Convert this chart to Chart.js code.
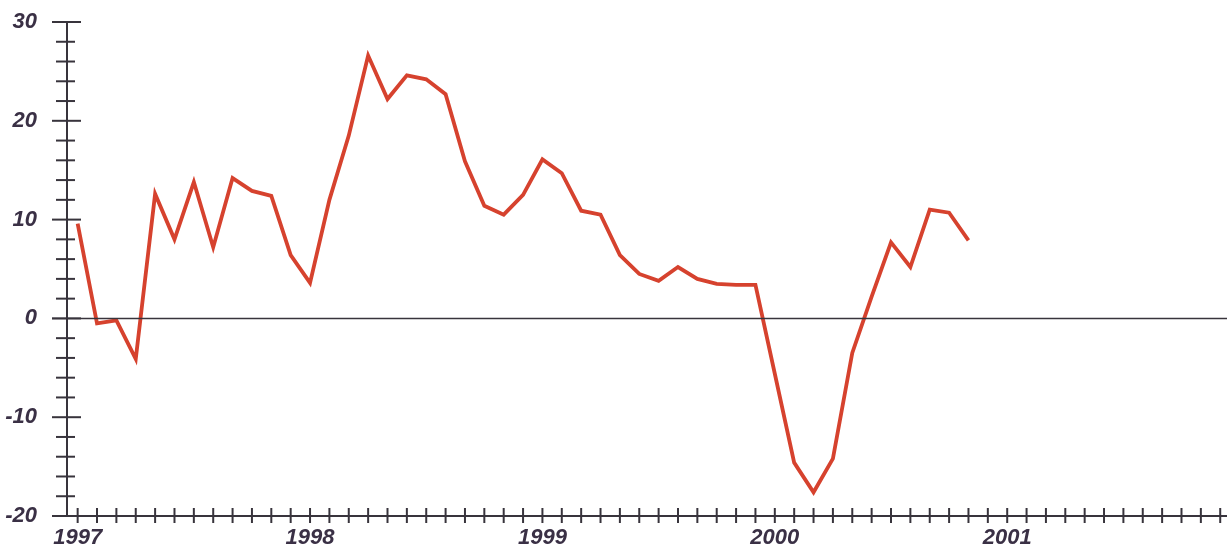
<!DOCTYPE html>
<html>
<head>
<meta charset="utf-8">
<script src="https://cdn.jsdelivr.net/npm/chart.js@4"></script>
<style>
  html, body { margin: 0; padding: 0; background: #fff; }
  #wrap { width: 1227px; height: 545px; }
</style>
</head>
<body>
<div id="wrap"><canvas id="grafico" width="1227" height="545"></canvas></div>
<script>
// Dados mensais, jan/1997 a nov/2000
const anos = ['1997', '1998', '1999', '2000', '2001'];
const valores = [
    9.6, -0.5, -0.2, -4.1, 12.6, 8.0, 13.8, 7.2, 14.2, 12.9, 12.4, 6.4,
    3.6, 12.0, 18.5, 26.6, 22.2, 24.6, 24.2, 22.7, 15.9, 11.4, 10.5, 12.5,
    16.1, 14.7, 10.9, 10.5, 6.4, 4.5, 3.8, 5.2, 4.0, 3.5, 3.4, 3.4,
    -5.6, -14.6, -17.6, -14.2, -3.5, 2.2, 7.7, 5.2, 11.0, 10.7, 7.9
];
const ticksY = [-20, -10, 0, 10, 20, 30];
const totalMeses = 60;

const corEixo = '#38343c';
const corTexto = '#3a3045';
const fonteEixo = { family: 'Liberation Sans, Arial, sans-serif', size: 22, weight: 'bold', style: 'italic' };

// Desenha eixos com marcas cruzando a linha, como no original
const eixosPlugin = {
    id: 'eixos',
    afterDatasetsDraw(chart) {
        const ctx = chart.ctx;
        const x = chart.scales.x;
        const y = chart.scales.y;
        const area = chart.chartArea;
        ctx.save();
        ctx.strokeStyle = corEixo;
        ctx.lineWidth = 1.5;

        // linha do zero
        const y0 = y.getPixelForValue(0);
        ctx.beginPath();
        ctx.moveTo(area.left - 15, y0);
        ctx.lineTo(area.right, y0);
        ctx.stroke();

        // eixo Y
        ctx.lineWidth = 2;
        ctx.beginPath();
        ctx.moveTo(area.left, y.getPixelForValue(30));
        ctx.lineTo(area.left, area.bottom);
        ctx.stroke();
        for (let v = -20; v <= 30; v += 2) {
            const py = y.getPixelForValue(v);
            const maior = v % 10 === 0;
            ctx.beginPath();
            ctx.moveTo(area.left - (maior ? 15 : 11), py);
            ctx.lineTo(area.left + (maior ? 14 : 8), py);
            ctx.stroke();
        }

        // eixo X
        ctx.beginPath();
        ctx.moveTo(area.left - 12, area.bottom);
        ctx.lineTo(area.right, area.bottom);
        ctx.stroke();
        for (let m = 0; m < totalMeses; m++) {
            const px = x.getPixelForValue(m);
            ctx.beginPath();
            ctx.moveTo(px, area.bottom - 8);
            ctx.lineTo(px, area.bottom + 7);
            ctx.stroke();
        }
        ctx.restore();
    }
};

function criarGrafico() {
    const ctx = document.getElementById('grafico').getContext('2d');
    new Chart(ctx, {
        type: 'line',
        data: {
            datasets: [
                {
                    label: 'Variação',
                    data: valores.map((v, i) => ({ x: i, y: v })),
                    borderColor: 'rgb(214, 66, 46)',
                    borderWidth: 3.8,
                    pointRadius: 0,
                    tension: 0,
                    fill: false
                }
            ]
        },
        options: {
            responsive: false,
            animation: false,
            layout: {
                padding: { top: 22, right: 0, left: 0, bottom: 0 }
            },
            plugins: {
                legend: { display: false },
                tooltip: { enabled: false }
            },
            scales: {
                x: {
                    type: 'linear',
                    min: -0.55,
                    max: 59.35,
                    grid: { display: false, drawTicks: false },
                    border: { display: false },
                    afterBuildTicks: s => { s.ticks = anos.map((a, i) => ({ value: i * 12 })); },
                    afterFit: s => { s.height = 29; },
                    ticks: {
                        autoSkip: false,
                        maxRotation: 0,
                        padding: 9,
                        color: corTexto,
                        font: fonteEixo,
                        callback: v => anos[v / 12]
                    }
                },
                y: {
                    min: -20,
                    max: 30,
                    grid: { display: false, drawTicks: false },
                    border: { display: false },
                    afterBuildTicks: s => { s.ticks = ticksY.map(v => ({ value: v })); },
                    // largura fixa e sem folga extra acima/abaixo dos rótulos
                    afterFit: s => { s.width = 67; s.paddingTop = 0; s.paddingBottom = 0; },
                    ticks: {
                        padding: 30,
                        color: corTexto,
                        font: fonteEixo
                    }
                }
            }
        },
        plugins: [eixosPlugin]
    });
}

document.addEventListener('DOMContentLoaded', criarGrafico);
</script>
</body>
</html>
